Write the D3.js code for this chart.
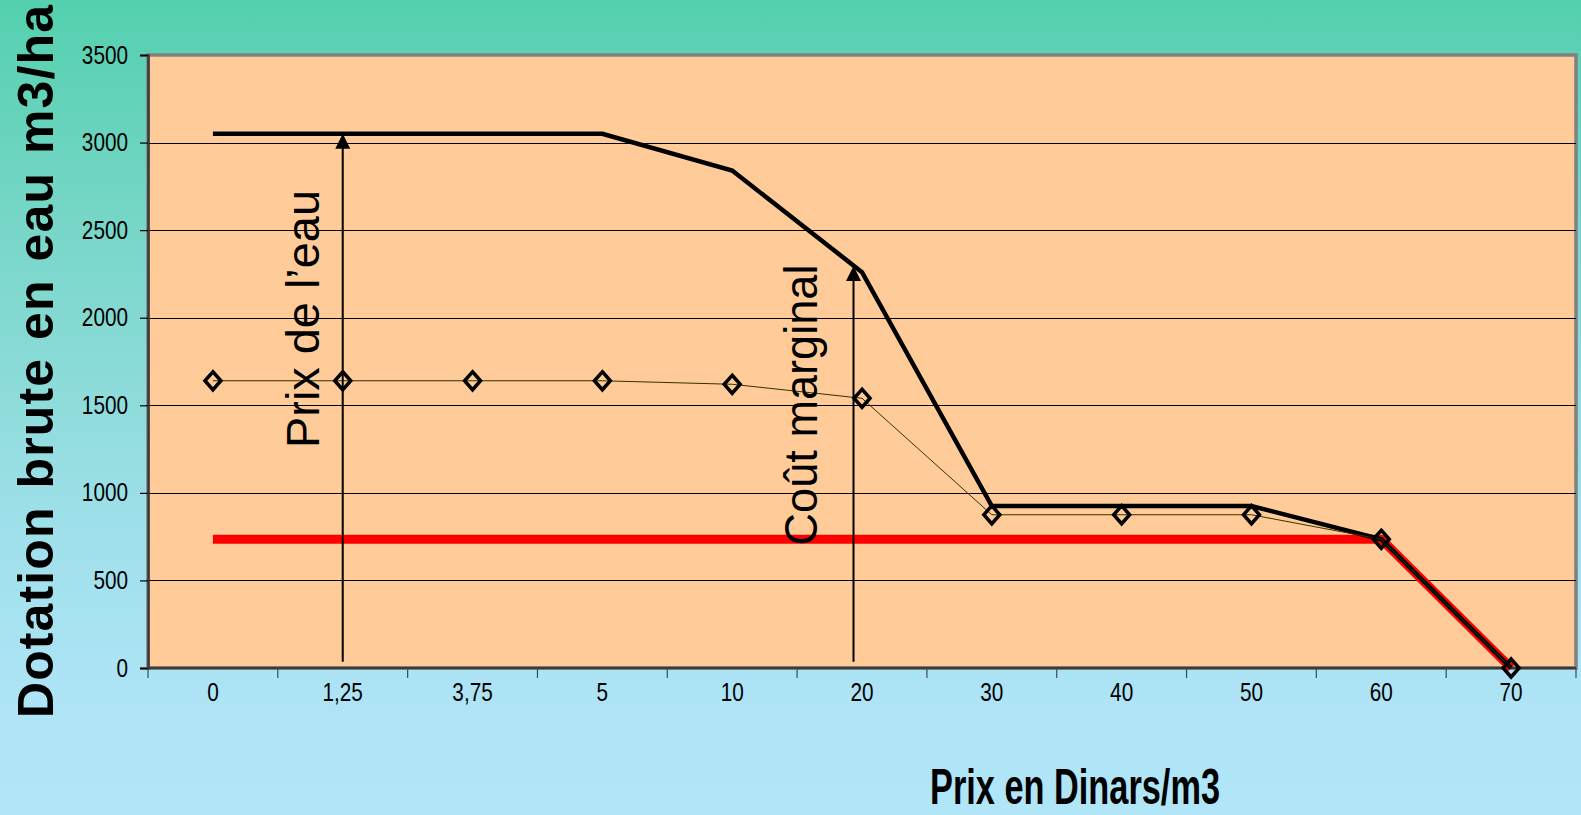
<!DOCTYPE html>
<html>
<head>
<meta charset="utf-8">
<script src="https://cdn.jsdelivr.net/npm/d3@7"></script>
<style>
  html, body { margin: 0; padding: 0; background: #b1e6f8; }
  svg { display: block; }
  text { font-family: "Liberation Sans", Arial, sans-serif; fill: #000; }
</style>
</head>
<body>
<svg id="chart" width="1581" height="815"></svg>
<script>
// Price levels (Dinars/m3) used as categories on the x axis
const categories = ["0", "1,25", "3,75", "5", "10", "20", "30", "40", "50", "60", "70"];

// Gross water allocation (m3/ha) for each price level
const demandUpper = [3050, 3050, 3050, 3050, 2840, 2260, 925, 925, 925, 735, 0];
const demandLower = [1640, 1640, 1640, 1640, 1620, 1540, 875, 875, 875, 735, 0];
const demandFloor = [735, 735, 735, 735, 735, 735, 735, 735, 735, 735, 0];

// Y axis ticks
const yTicks = [0, 500, 1000, 1500, 2000, 2500, 3000, 3500];

// Vertical arrows: category, start and end value (m3/ha)
const arrowCats = ["1,25", "20"];
const arrowFrom = [35, 35];
const arrowTo = [3050, 2295];

const W = 1581, H = 815;
const margin = { top: 55, right: 5, bottom: 147, left: 148 };
const iw = W - margin.left - margin.right;
const ih = H - margin.top - margin.bottom;

const svg = d3.select("#chart");

// Background gradient
const defs = svg.append("defs");
const grad = defs.append("linearGradient").attr("id", "bg")
  .attr("x1", 0).attr("y1", 0).attr("x2", 0).attr("y2", 1);
[[0, "#54d0ae"], [0.3, "#7ad7ca"], [0.65, "#9fe0ea"], [0.86, "#aee4f6"], [1, "#b1e6f8"]]
  .forEach(([o, c]) => grad.append("stop").attr("offset", o).attr("stop-color", c));
svg.append("rect").attr("width", W).attr("height", H).attr("fill", "url(#bg)");

const x = d3.scaleBand().domain(categories).range([0, iw]).padding(0);
const y = d3.scaleLinear().domain([0, 3500]).range([ih, 0]);
const cx = c => x(c) + x.bandwidth() / 2;

const g = svg.append("g").attr("transform", `translate(${margin.left},${margin.top})`);

// Plot area
g.append("rect").attr("x", 0).attr("y", 0).attr("width", iw).attr("height", ih)
  .attr("fill", "#ffcc99").attr("stroke", "#808080").attr("stroke-width", 3.5);

// Horizontal gridlines
g.append("g").selectAll("line").data(yTicks.filter(v => v > 0 && v < 3500)).join("line")
  .attr("x1", 0).attr("x2", iw)
  .attr("y1", d => Math.round(y(d)) + 0.5).attr("y2", d => Math.round(y(d)) + 0.5)
  .attr("stroke", "#000").attr("stroke-width", 1);

// Y axis (labels drawn slightly condensed)
const sx = 0.83;
const yAxis = g.append("g").call(
  d3.axisLeft(y).tickValues(yTicks).tickSize(8).tickPadding(12).tickFormat(d3.format("d"))
);
yAxis.select(".domain").attr("stroke", "#3a3a3a").attr("stroke-width", 2.5);
yAxis.selectAll(".tick line").attr("stroke", "#000").attr("stroke-width", 1.2);
yAxis.selectAll(".tick text")
  .attr("font-size", 25).attr("font-family", "Liberation Sans, Arial, sans-serif")
  .attr("x", -20 / sx).attr("transform", `scale(${sx},1)`);

// X axis: labels at category centres, ticks at category boundaries
const xAxis = g.append("g").attr("transform", `translate(0,${ih})`).call(
  d3.axisBottom(x).tickSize(0).tickPadding(0)
);
xAxis.select(".domain").remove();
xAxis.selectAll(".tick text")
  .attr("font-size", 25).attr("font-family", "Liberation Sans, Arial, sans-serif")
  .attr("dy", null).attr("y", 33).attr("x", 0)
  .attr("transform", `scale(${sx},1)`);
g.append("line").attr("x1", 0).attr("x2", iw).attr("y1", ih).attr("y2", ih)
  .attr("stroke", "#3a3a3a").attr("stroke-width", 2.5);
const bounds = categories.map(c => x(c)).concat([iw]);
g.append("g").selectAll("line").data(bounds).join("line")
  .attr("x1", d => d).attr("x2", d => d)
  .attr("y1", ih).attr("y2", ih + 10)
  .attr("stroke", "#3a4a55").attr("stroke-width", 1.2);

// Series
const line = d3.line().x((d, i) => cx(categories[i])).y(d => y(d));

g.append("path").datum(demandFloor).attr("d", line)
  .attr("fill", "none").attr("stroke", "#ff0000").attr("stroke-width", 9)
  .attr("stroke-linejoin", "round");

g.append("path").datum(demandUpper).attr("d", line)
  .attr("fill", "none").attr("stroke", "#000").attr("stroke-width", 4.5)
  .attr("stroke-linejoin", "miter");

g.append("path").datum(demandLower).attr("d", line)
  .attr("fill", "none").attr("stroke", "#333300").attr("stroke-width", 1);

const diamond = "M0,-9L8,0L0,9L-8,0Z";
g.append("g").selectAll("path").data(demandLower).join("path")
  .attr("d", diamond)
  .attr("transform", (d, i) => `translate(${cx(categories[i])},${y(d)})`)
  .attr("fill", "none").attr("stroke", "#000").attr("stroke-width", 3.5);

// Arrows
const arrowShift = [0, -8.5];
arrowCats.forEach((c, i) => {
  const ax = cx(c) + arrowShift[i];
  const y0 = y(arrowFrom[i]), y1 = y(arrowTo[i]);
  g.append("line").attr("x1", ax).attr("x2", ax).attr("y1", y0).attr("y2", y1 + 14)
    .attr("stroke", "#000").attr("stroke-width", 2);
  g.append("path")
    .attr("d", `M${ax},${y1}L${ax + 7.5},${y1 + 15}L${ax - 7.5},${y1 + 15}Z`)
    .attr("fill", "#000");
});

// Vertical annotations
g.append("text")
  .attr("transform", `translate(${319 - margin.left},${319 - margin.top}) rotate(-90)`)
  .attr("text-anchor", "middle").attr("font-size", 47)
  .attr("textLength", 258).attr("lengthAdjust", "spacingAndGlyphs")
  .text("Prix de l’eau");

g.append("text")
  .attr("transform", `translate(${817 - margin.left},${405 - margin.top}) rotate(-90)`)
  .attr("text-anchor", "middle").attr("font-size", 47)
  .attr("textLength", 281).attr("lengthAdjust", "spacingAndGlyphs")
  .text("Coût marginal");

// Axis titles
svg.append("text")
  .attr("x", 1075).attr("y", 804)
  .attr("text-anchor", "middle").attr("font-size", 50).attr("font-weight", "bold")
  .attr("textLength", 290).attr("lengthAdjust", "spacingAndGlyphs")
  .text("Prix en Dinars/m3");

svg.append("text")
  .attr("transform", "translate(53,718) rotate(-90)")
  .attr("text-anchor", "start").attr("font-size", 50).attr("font-weight", "bold")
  .attr("word-spacing", 3)
  .attr("textLength", 713).attr("lengthAdjust", "spacing")
  .text("Dotation brute en eau m3/ha");
</script>
</body>
</html>
